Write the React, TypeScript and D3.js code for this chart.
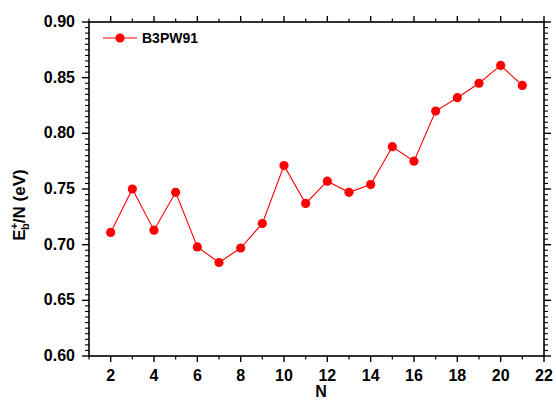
import React from "react";
import * as d3 from "d3";

const nValues = [2, 3, 4, 5, 6, 7, 8, 9, 10, 11, 12, 13, 14, 15, 16, 17, 18, 19, 20, 21];
const ebValues = [0.711, 0.750, 0.713, 0.747, 0.698, 0.684, 0.697, 0.719, 0.771, 0.737, 0.757, 0.747, 0.754, 0.788, 0.775, 0.820, 0.832, 0.845, 0.861, 0.843];
const xTicks = [2, 4, 6, 8, 10, 12, 14, 16, 18, 20, 22];
const yTicks = [0.6, 0.65, 0.7, 0.75, 0.8, 0.85, 0.9];
const seriesName = "B3PW91";

const W = 556, H = 402;
const L = 89, R = 544, T = 22, B = 356;
const FONT = "'Liberation Sans', Arial, sans-serif";
const RED = "#ff0000";

export default function App() {
  const x = d3.scaleLinear().domain([1, 22]).range([L, R]);
  const y = d3.scaleLinear().domain([0.6, 0.9]).range([B, T]);
  const minorX = d3.range(1, 23, 1).filter((v) => v % 2 === 1);
  const minorY = d3.range(0, 61).map((i) => 0.6 + i * 0.005).filter((_, i) => i % 10 !== 0);
  const line = d3.line<number>().x((_, i) => x(nValues[i])).y((d) => y(d));

  return (
    <svg width={W} height={H} style={{ position: "absolute", left: 0, top: 0, background: "#fff" }}>
      <rect x={0} y={0} width={W} height={H} fill="#fff" />
      {/* frame */}
      <rect x={L} y={T} width={R - L} height={B - T} fill="none" stroke="#000" strokeWidth={1.6} />
      {/* bottom & top ticks */}
      {xTicks.map((t) => (
        <g key={"xt" + t}>
          <line x1={x(t)} x2={x(t)} y1={B} y2={B + 6} stroke="#000" strokeWidth={1.4} />
          <line x1={x(t)} x2={x(t)} y1={T} y2={T - 6} stroke="#000" strokeWidth={1.4} />
          <text x={x(t)} y={B + 25} textAnchor="middle" fontFamily={FONT} fontWeight="bold" fontSize={16} fill="#000">{t}</text>
        </g>
      ))}
      {minorX.map((t) => (
        <g key={"xm" + t}>
          <line x1={x(t)} x2={x(t)} y1={B} y2={B + 3.5} stroke="#000" strokeWidth={1.2} />
          <line x1={x(t)} x2={x(t)} y1={T} y2={T - 3.5} stroke="#000" strokeWidth={1.2} />
        </g>
      ))}
      {/* left & right ticks */}
      {yTicks.map((t) => (
        <g key={"yt" + t}>
          <line x1={L} x2={L - 7} y1={y(t)} y2={y(t)} stroke="#000" strokeWidth={1.4} />
          <line x1={R} x2={R + 7} y1={y(t)} y2={y(t)} stroke="#000" strokeWidth={1.4} />
          <text x={L - 14} y={y(t) + 5} textAnchor="end" fontFamily={FONT} fontWeight="bold" fontSize={16} fill="#000">{t.toFixed(2)}</text>
        </g>
      ))}
      {minorY.map((t, i) => (
        <g key={"ym" + i}>
          <line x1={L} x2={L - 4} y1={y(t)} y2={y(t)} stroke="#000" strokeWidth={1.1} />
          <line x1={R} x2={R + 4} y1={y(t)} y2={y(t)} stroke="#000" strokeWidth={1.1} />
        </g>
      ))}
      {/* axis titles */}
      <text x={321} y={397} textAnchor="middle" fontFamily={FONT} fontWeight="bold" fontSize={16} fill="#000">N</text>
      <text transform={`translate(25, 205) rotate(-90)`} textAnchor="middle" fontFamily={FONT} fontWeight="bold" fontSize={17} fill="#000">
        E<tspan fontSize={11} dy={-7}>+</tspan><tspan fontSize={11} dx={-7} dy={11}>b</tspan><tspan dy={-4}>/N (eV)</tspan>
      </text>
      {/* series */}
      <path d={line(ebValues) || ""} fill="none" stroke={RED} strokeWidth={1.1} />
      {ebValues.map((v, i) => (
        <circle key={"p" + i} cx={x(nValues[i])} cy={y(v)} r={4.6} fill={RED} />
      ))}
      {/* legend */}
      <line x1={103} x2={137} y1={38} y2={38} stroke={RED} strokeWidth={1.1} />
      <circle cx={120} cy={38} r={4.6} fill={RED} />
      <text x={142} y={43} fontFamily={FONT} fontWeight="bold" fontSize={14} fill="#000">{seriesName}</text>
    </svg>
  );
}
